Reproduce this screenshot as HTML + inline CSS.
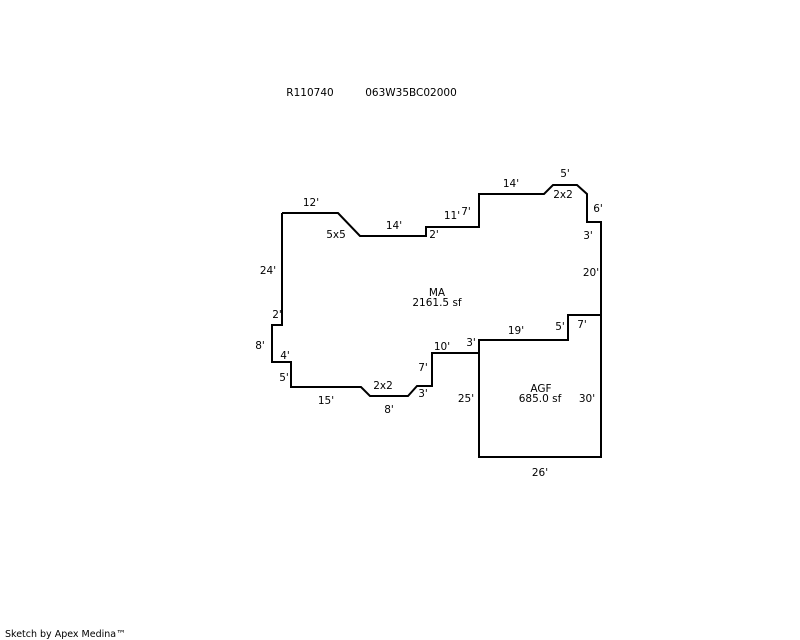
<!DOCTYPE html>
<html><head><style>html,body{margin:0;padding:0;background:#fff;}svg{display:block}</style></head>
<body>
<svg width="800" height="640" xmlns="http://www.w3.org/2000/svg" font-family="DejaVu Sans, Liberation Sans, sans-serif" font-size="10.5" fill="#000">
<g fill="none" stroke="#000" stroke-width="2">
<polyline points="282,213 338,213 360,236 426,236 426,227 479,227 479,194 544,194 553,185 577,185 587,194 587,222 601,222 601,315 568,315 568,340 479,340 479,353 432,353 432,386 417,386 408,396 370,396 361,387 291,387 291,362 272,362 272,325 282,325 282,213"/>
<polyline points="479,340 479,457 601,457 601,315"/>
</g>
<g text-anchor="middle">
<text x="310" y="96">R110740</text>
<text x="411" y="96">063W35BC02000</text>
<text x="311" y="206">12'</text>
<text x="336" y="238">5x5</text>
<text x="394" y="229">14'</text>
<text x="434" y="238">2'</text>
<text x="452" y="219">11'</text>
<text x="466" y="215">7'</text>
<text x="511" y="187">14'</text>
<text x="565" y="177">5'</text>
<text x="563" y="198">2x2</text>
<text x="598" y="212">6'</text>
<text x="588" y="239">3'</text>
<text x="591" y="276">20'</text>
<text x="268" y="274">24'</text>
<text x="277" y="318">2'</text>
<text x="260" y="349">8'</text>
<text x="285" y="359">4'</text>
<text x="284" y="381">5'</text>
<text x="326" y="404">15'</text>
<text x="383" y="389">2x2</text>
<text x="389" y="413">8'</text>
<text x="423" y="397">3'</text>
<text x="423" y="371">7'</text>
<text x="442" y="350">10'</text>
<text x="471" y="346">3'</text>
<text x="516" y="334">19'</text>
<text x="560" y="330">5'</text>
<text x="582" y="328">7'</text>
<text x="437" y="296">MA</text>
<text x="437" y="306">2161.5 sf</text>
<text x="541" y="392">AGF</text>
<text x="540" y="402">685.0 sf</text>
<text x="466" y="402">25'</text>
<text x="587" y="402">30'</text>
<text x="540" y="476">26'</text>
</g>
<text x="5" y="637" font-size="9.5">Sketch by Apex Medina™</text>
</svg>
</body></html>
